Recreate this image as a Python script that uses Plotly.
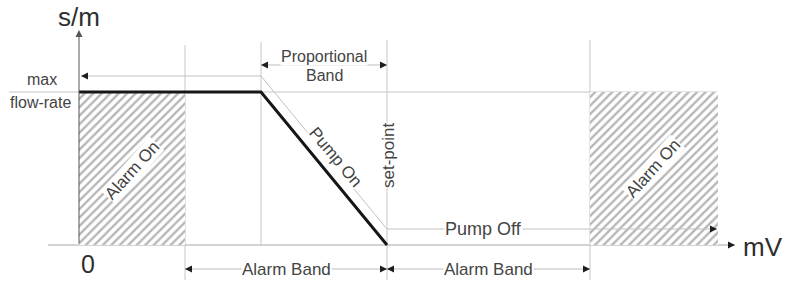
import plotly.graph_objects as go

# ---- data (diagram units: mV along x, flow along y) ----
zero_mV = 0
alarm_low_mV = 106      # end of low alarm zone
prop_start_mV = 182     # start of proportional band
set_point_mV = 308      # set-point
alarm_high_mV = 511     # start of high alarm zone
scale_end_mV = 639      # end of scale
max_flow = 153          # max flow-rate level

pump_x = [zero_mV, prop_start_mV, set_point_mV]
pump_y = [max_flow, max_flow, 0]

alarm_zones = [(zero_mV, alarm_low_mV), (alarm_high_mV, scale_end_mV)]
alarm_bands = [(alarm_low_mV, set_point_mV), (set_point_mV, alarm_high_mV)]
band_label = "Alarm Band"
zone_label = "Alarm On"

# ---- styling constants ----
FONT = "Liberation Sans"
GRID = "#c6c6c6"
TXT = "#444444"
HEAD = "#1e1e1e"
guide_off = 16          # offset of the grey guide line
x_min, x_max = -79, 711
y_min, y_max = -39, 245

fig = go.Figure()

# hatched alarm zones
for x0, x1 in alarm_zones:
    fig.add_trace(go.Scatter(
        x=[x0, x1, x1, x0, x0], y=[0, 0, max_flow, max_flow, 0],
        mode="lines", fill="toself", line=dict(width=0),
        fillcolor="rgba(0,0,0,0)",
        fillpattern=dict(shape="/", fgcolor="#6e6e6e", bgcolor="white",
                         size=6, solidity=0.4),
        hoverinfo="skip", showlegend=False))

shapes = []
def seg(x0, y0, x1, y1, color=GRID, width=1):
    shapes.append(dict(type="line", x0=x0, y0=y0, x1=x1, y1=y1,
                       xref="x", yref="y", layer="below",
                       line=dict(color=color, width=width)))

# max flow-rate reference line
seg(x_min + 9, max_flow, scale_end_mV, max_flow)
# vertical band boundaries
seg(alarm_low_mV, 200, alarm_low_mV, y_min + 4)
seg(prop_start_mV, 203, prop_start_mV, 0)
seg(set_point_mV, 205, set_point_mV, y_min + 4)
seg(alarm_high_mV, 205, alarm_high_mV, y_min + 4)
# x axis
seg(-31, 0, 656, 0, color="#a8a8a8")
# proportional band arrow line
seg(prop_start_mV, 180, set_point_mV, 180, color="#bdbdbd")
# alarm band arrow lines
for a, b in alarm_bands:
    seg(a, -24, b, -24, color="#bdbdbd")

# grey guide line (pump on / pump off)
guide_x = [zero_mV + 2, prop_start_mV, set_point_mV, scale_end_mV - 1]
guide_y = [max_flow + guide_off, max_flow + guide_off, guide_off, guide_off]
fig.add_trace(go.Scatter(x=guide_x, y=guide_y, mode="lines",
                         line=dict(color="#c2c2c2", width=1),
                         hoverinfo="skip", showlegend=False))

# pump curve
fig.add_trace(go.Scatter(x=pump_x, y=pump_y, mode="lines",
                         line=dict(color="#161616", width=3),
                         hoverinfo="skip", showlegend=False))

ann = []
def head(x, y, dx, dy, color=HEAD):
    ann.append(dict(x=x, y=y, ax=x - dx, ay=y - dy, xref="x", yref="y",
                    axref="x", ayref="y", text="", showarrow=True,
                    arrowhead=2, arrowsize=1.4, arrowwidth=1,
                    arrowcolor=color, standoff=0))

# y axis with arrow
ann.append(dict(x=0, y=215, ax=0, ay=0, xref="x", yref="y", axref="x",
                ayref="y", text="", showarrow=True, arrowhead=2,
                arrowsize=1.4, arrowwidth=1, arrowcolor="#555"))
head(656, 0, 6, 0)                                   # x axis
head(guide_x[0], guide_y[0], -6, 0)                  # guide left
head(guide_x[-1], guide_y[-1], 6, 0)                 # pump off
head(prop_start_mV, 180, -6, 0)
head(set_point_mV, 180, 6, 0)
for a, b in alarm_bands:
    head(a, -24, -6, 0)
    head(b, -24, 6, 0)

def label(x, y, text, size=16, angle=0, color=TXT, bg="white", xanchor="center"):
    ann.append(dict(x=x, y=y, xref="x", yref="y", text=text, showarrow=False,
                    textangle=angle, bgcolor=bg, borderpad=0,
                    xanchor=xanchor, yanchor="middle",
                    font=dict(family=FONT, size=size, color=color)))

label(0, 228, "s/m", size=26, color="#2e2e2e", bg="rgba(0,0,0,0)")
label(684, -2, "mV", size=26, color="#2e2e2e", bg="rgba(0,0,0,0)")
label(9, -19, "0", size=25, color="#2e2e2e", bg="rgba(0,0,0,0)")
label(-37, 166, "max", size=16, bg="rgba(0,0,0,0)")
label(-39, 143, "flow-rate", size=16, bg="rgba(0,0,0,0)")
label((prop_start_mV + set_point_mV) / 2, 189, "Proportional", size=16)
label((prop_start_mV + set_point_mV) / 2, 170, "Band", size=16)
label(257, 88, "Pump On", size=17, angle=50)
label(set_point_mV + 1, 89, "set-point", size=17, angle=-90)
label(404, guide_off, "Pump Off", size=18)
for a, b in alarm_bands:
    label((a + b) / 2, -24, band_label, size=17)
label(53, 75, zone_label, size=17, angle=-48)
label(574, 77, zone_label, size=17, angle=-48)

fig.update_layout(
    width=790, height=284,
    margin=dict(l=0, r=0, t=0, b=0),
    paper_bgcolor="white", plot_bgcolor="white",
    xaxis=dict(range=[x_min, x_max], visible=False, fixedrange=True),
    yaxis=dict(range=[y_min, y_max], visible=False, fixedrange=True),
    shapes=shapes, annotations=ann, showlegend=False)

fig.write_html("out.html", config={"displayModeBar": False},
               post_script="document.body.style.margin='0';")
